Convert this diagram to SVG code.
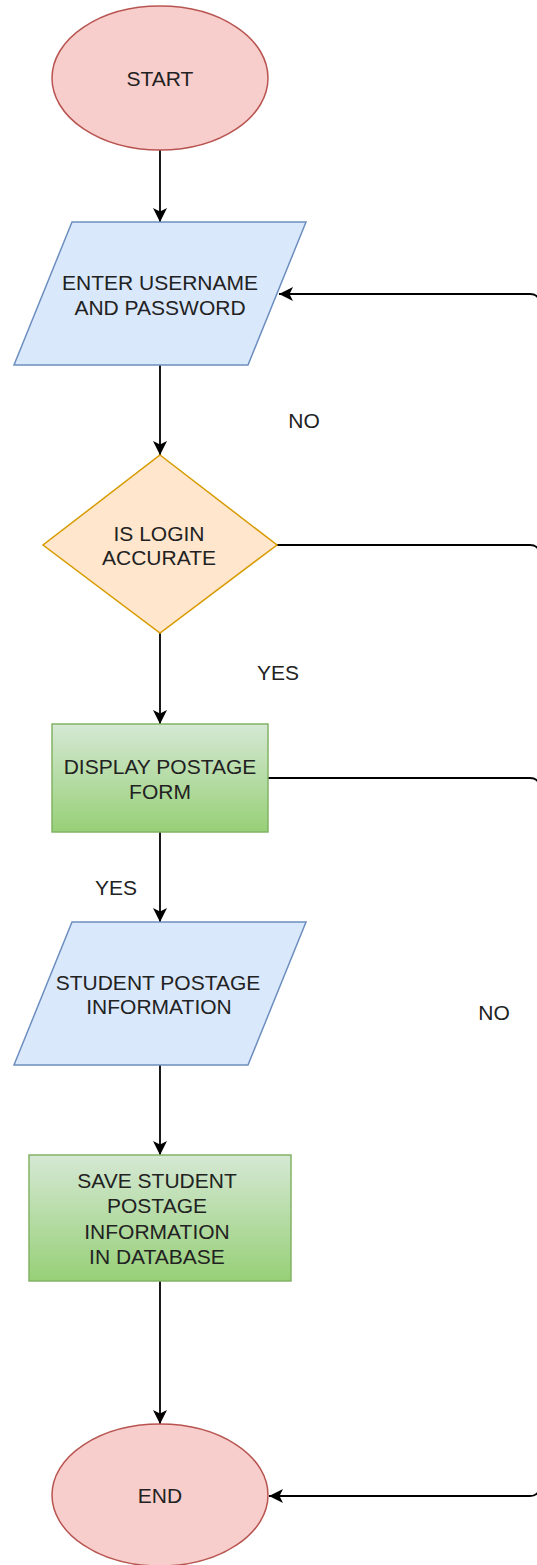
<svg xmlns="http://www.w3.org/2000/svg" width="537" height="1565" viewBox="0 0 537 1565">
<style>
text{font-family:"Liberation Sans",Arial,sans-serif;font-size:21px;fill:#222;text-anchor:middle}
.term{fill:#f8cecc;stroke:#b85450;stroke-width:1.5}
.io{fill:#dae8fc;stroke:#6c8ebf;stroke-width:1.5}
.dec{fill:#ffe6cc;stroke:#d79b00;stroke-width:1.5}
.proc{fill:url(#green);stroke:#82b366;stroke-width:1.5}
.edge{fill:none;stroke:#000;stroke-width:1.8}
.arr{marker-end:url(#ah)}
</style>
<defs>
<linearGradient id="green" x1="0" y1="0" x2="0" y2="1">
<stop offset="0" stop-color="#d5e8d4"/>
<stop offset="1" stop-color="#97d077"/>
</linearGradient>
<marker id="ah" viewBox="0 0 14 14" refX="14" refY="7" markerWidth="14" markerHeight="14" markerUnits="userSpaceOnUse" orient="auto">
<path d="M0,0 L14,7 L0,14 L3.5,7 Z" fill="#000"/>
</marker>
</defs>
<g id="connectors">
<path class="edge arr" d="M160 150 V222"/>
<path class="edge arr" d="M160 365 V455"/>
<path class="edge arr" d="M160 633 V724"/>
<path class="edge arr" d="M160 832 V922"/>
<path class="edge arr" d="M160 1065 V1155"/>
<path class="edge arr" d="M160 1281 V1424"/>
<path class="edge arr" d="M538 298 Q536 294 530 294 H279"/>
<path class="edge" d="M277 545 H530 Q536 545 538 549"/>
<path class="edge" d="M268 778 H530 Q536 778 538 782"/>
<path class="edge arr" d="M538 1492 Q536 1496 530 1496 H269"/>
</g>
<g id="start">
<ellipse class="term" cx="160" cy="78" rx="108" ry="72"/>
<text x="160" y="85.5">START</text>
</g>
<g id="enter-credentials">
<polygon class="io" points="72,222 306,222 248,365 14,365"/>
<text x="160" y="289.5">ENTER USERNAME</text>
<text x="160" y="314.5">AND PASSWORD</text>
</g>
<g id="is-login-accurate">
<polygon class="dec" points="160,455 277,545 160,633 43,545"/>
<text x="159" y="540.5">IS LOGIN</text>
<text x="159" y="564.5">ACCURATE</text>
</g>
<g id="display-form">
<rect class="proc" x="52" y="724" width="216" height="108"/>
<text x="160" y="773.5">DISPLAY POSTAGE</text>
<text x="160" y="798.5">FORM</text>
</g>
<g id="student-info">
<polygon class="io" points="72,922 306,922 248,1065 14,1065"/>
<text x="158" y="989.5">STUDENT POSTAGE</text>
<text x="159" y="1013.5">INFORMATION</text>
</g>
<g id="save-info">
<rect class="proc" x="29" y="1155" width="262" height="126"/>
<text x="157" y="1187.5">SAVE STUDENT</text>
<text x="157" y="1213">POSTAGE</text>
<text x="157" y="1238.5">INFORMATION</text>
<text x="157" y="1263.5">IN DATABASE</text>
</g>
<g id="end">
<ellipse class="term" cx="160" cy="1495" rx="108" ry="71"/>
<text x="160" y="1502.5">END</text>
</g>
<g id="labels">
<text x="304" y="427.5">NO</text>
<text x="278" y="679.5">YES</text>
<text x="116" y="894.5">YES</text>
<text x="494" y="1019.5">NO</text>
</g>
</svg>
